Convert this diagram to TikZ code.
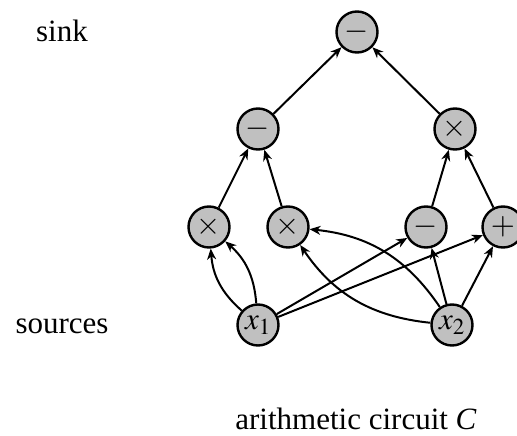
\documentclass[tikz,border=0pt]{standalone}
\usepackage{mathptmx}
\usepackage{fontspec}
\setmainfont{Liberation Serif}
\usetikzlibrary{arrows.meta}
\definecolor{gatefill}{HTML}{C0C0C0}
\tikzset{
  gate/.style={circle, draw=black, line width=2.4pt, fill=gatefill, minimum size=41pt, inner sep=0pt, font=\fontsize{31}{37}\selectfont},
  lbl/.style={inner sep=0pt, anchor=base, text depth=0pt, font=\fontsize{31}{37}\selectfont},
  wire/.style={line width=2pt, -{Stealth[length=11pt,width=9pt,inset=3.5pt]}}
}
\begin{document}
\begin{tikzpicture}[x=1pt,y=-1pt]
\useasboundingbox (0,0) rectangle (517,436);
\node[gate] (sink) at (357,32) {$-$};
\node[gate] (lm) at (258,129) {$-$};
\node[gate] (rt) at (455,129) {$\times$};
\node[gate] (t1) at (209,227) {$\times$};
\node[gate] (t2) at (288,227) {$\times$};
\node[gate] (m) at (426,227) {$-$};
\node[gate] (p) at (503,227) {$+$};
\node[gate] (x1) at (258,325) {$x_1$};
\node[gate] (x2) at (452,325) {$x_2$};
\node[lbl] (sinklbl) at (62,42) {sink};
\node[lbl] (srclbl) at (62,333) {sources};
\node[lbl] (title) at (356,429) {arithmetic circuit \textit{C}};
\draw[wire] (lm) -- (sink);
\draw[wire] (rt) -- (sink);
\draw[wire] (t1) -- (lm);
\draw[wire] (t2) -- (lm);
\draw[wire] (m) -- (rt);
\draw[wire] (p) -- (rt);
\draw[wire] (x1) to[bend left=22] (t1);
\draw[wire] (x1) to[bend right=22] (t1);
\draw[wire] (x2) to[bend left=25] (t2);
\draw[wire] (x2) to[bend right=25] (t2);
\draw[wire] (x1) -- (m);
\draw[wire] (x1) -- (p);
\draw[wire] (x2) -- (m);
\draw[wire] (x2) -- (p);
\end{tikzpicture}
\end{document}
